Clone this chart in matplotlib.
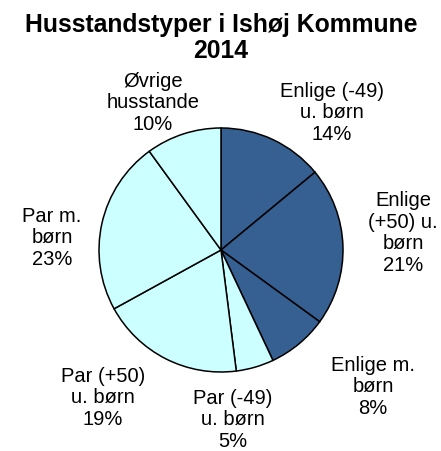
import matplotlib
matplotlib.use("Agg")
import matplotlib.pyplot as plt

# Data
categories = [
    "Enlige (-49)\nu. børn",
    "Enlige\n(+50) u.\nbørn",
    "Enlige m.\nbørn",
    "Par (-49)\nu. børn",
    "Par (+50)\nu. børn",
    "Par m.\nbørn",
    "Øvrige\nhusstande",
]
shares = [14, 21, 8, 5, 19, 23, 10]
colors = ["#366092", "#366092", "#366092", "#CCFFFF", "#CCFFFF", "#CCFFFF", "#CCFFFF"]

# label placement (pixel positions, y from top)
label_pos = [(332, 113), (403, 233), (373, 387), (233, 420), (103, 398), (52, 238), (153, 103)]

W, H = 441, 452
plt.rcParams["font.family"] = ["Liberation Sans", "DejaVu Sans"]

fig = plt.figure(figsize=(W / 100, H / 100), dpi=100, facecolor="white")
ax = fig.add_axes([0, 0, 1, 1])

ax.pie(
    shares,
    colors=colors,
    startangle=90,
    counterclock=False,
    center=(221, H - 251),
    radius=122,
    wedgeprops=dict(edgecolor="black", linewidth=1.1),
)
ax.set_xlim(0, W)
ax.set_ylim(0, H)
ax.set_aspect("equal")
ax.axis("off")

for name, val, (x, y) in zip(categories, shares, label_pos):
    ax.text(x, H - y, f"{name}\n{val}%", ha="center", va="center",
            fontsize=14.5, linespacing=1.18)

ax.text(221, H - 38, "Husstandstyper i Ishøj Kommune\n2014", ha="center", va="center",
        fontsize=17.8, fontweight="bold", linespacing=1.08)

fig.savefig("out.png", dpi=100, facecolor="white")
